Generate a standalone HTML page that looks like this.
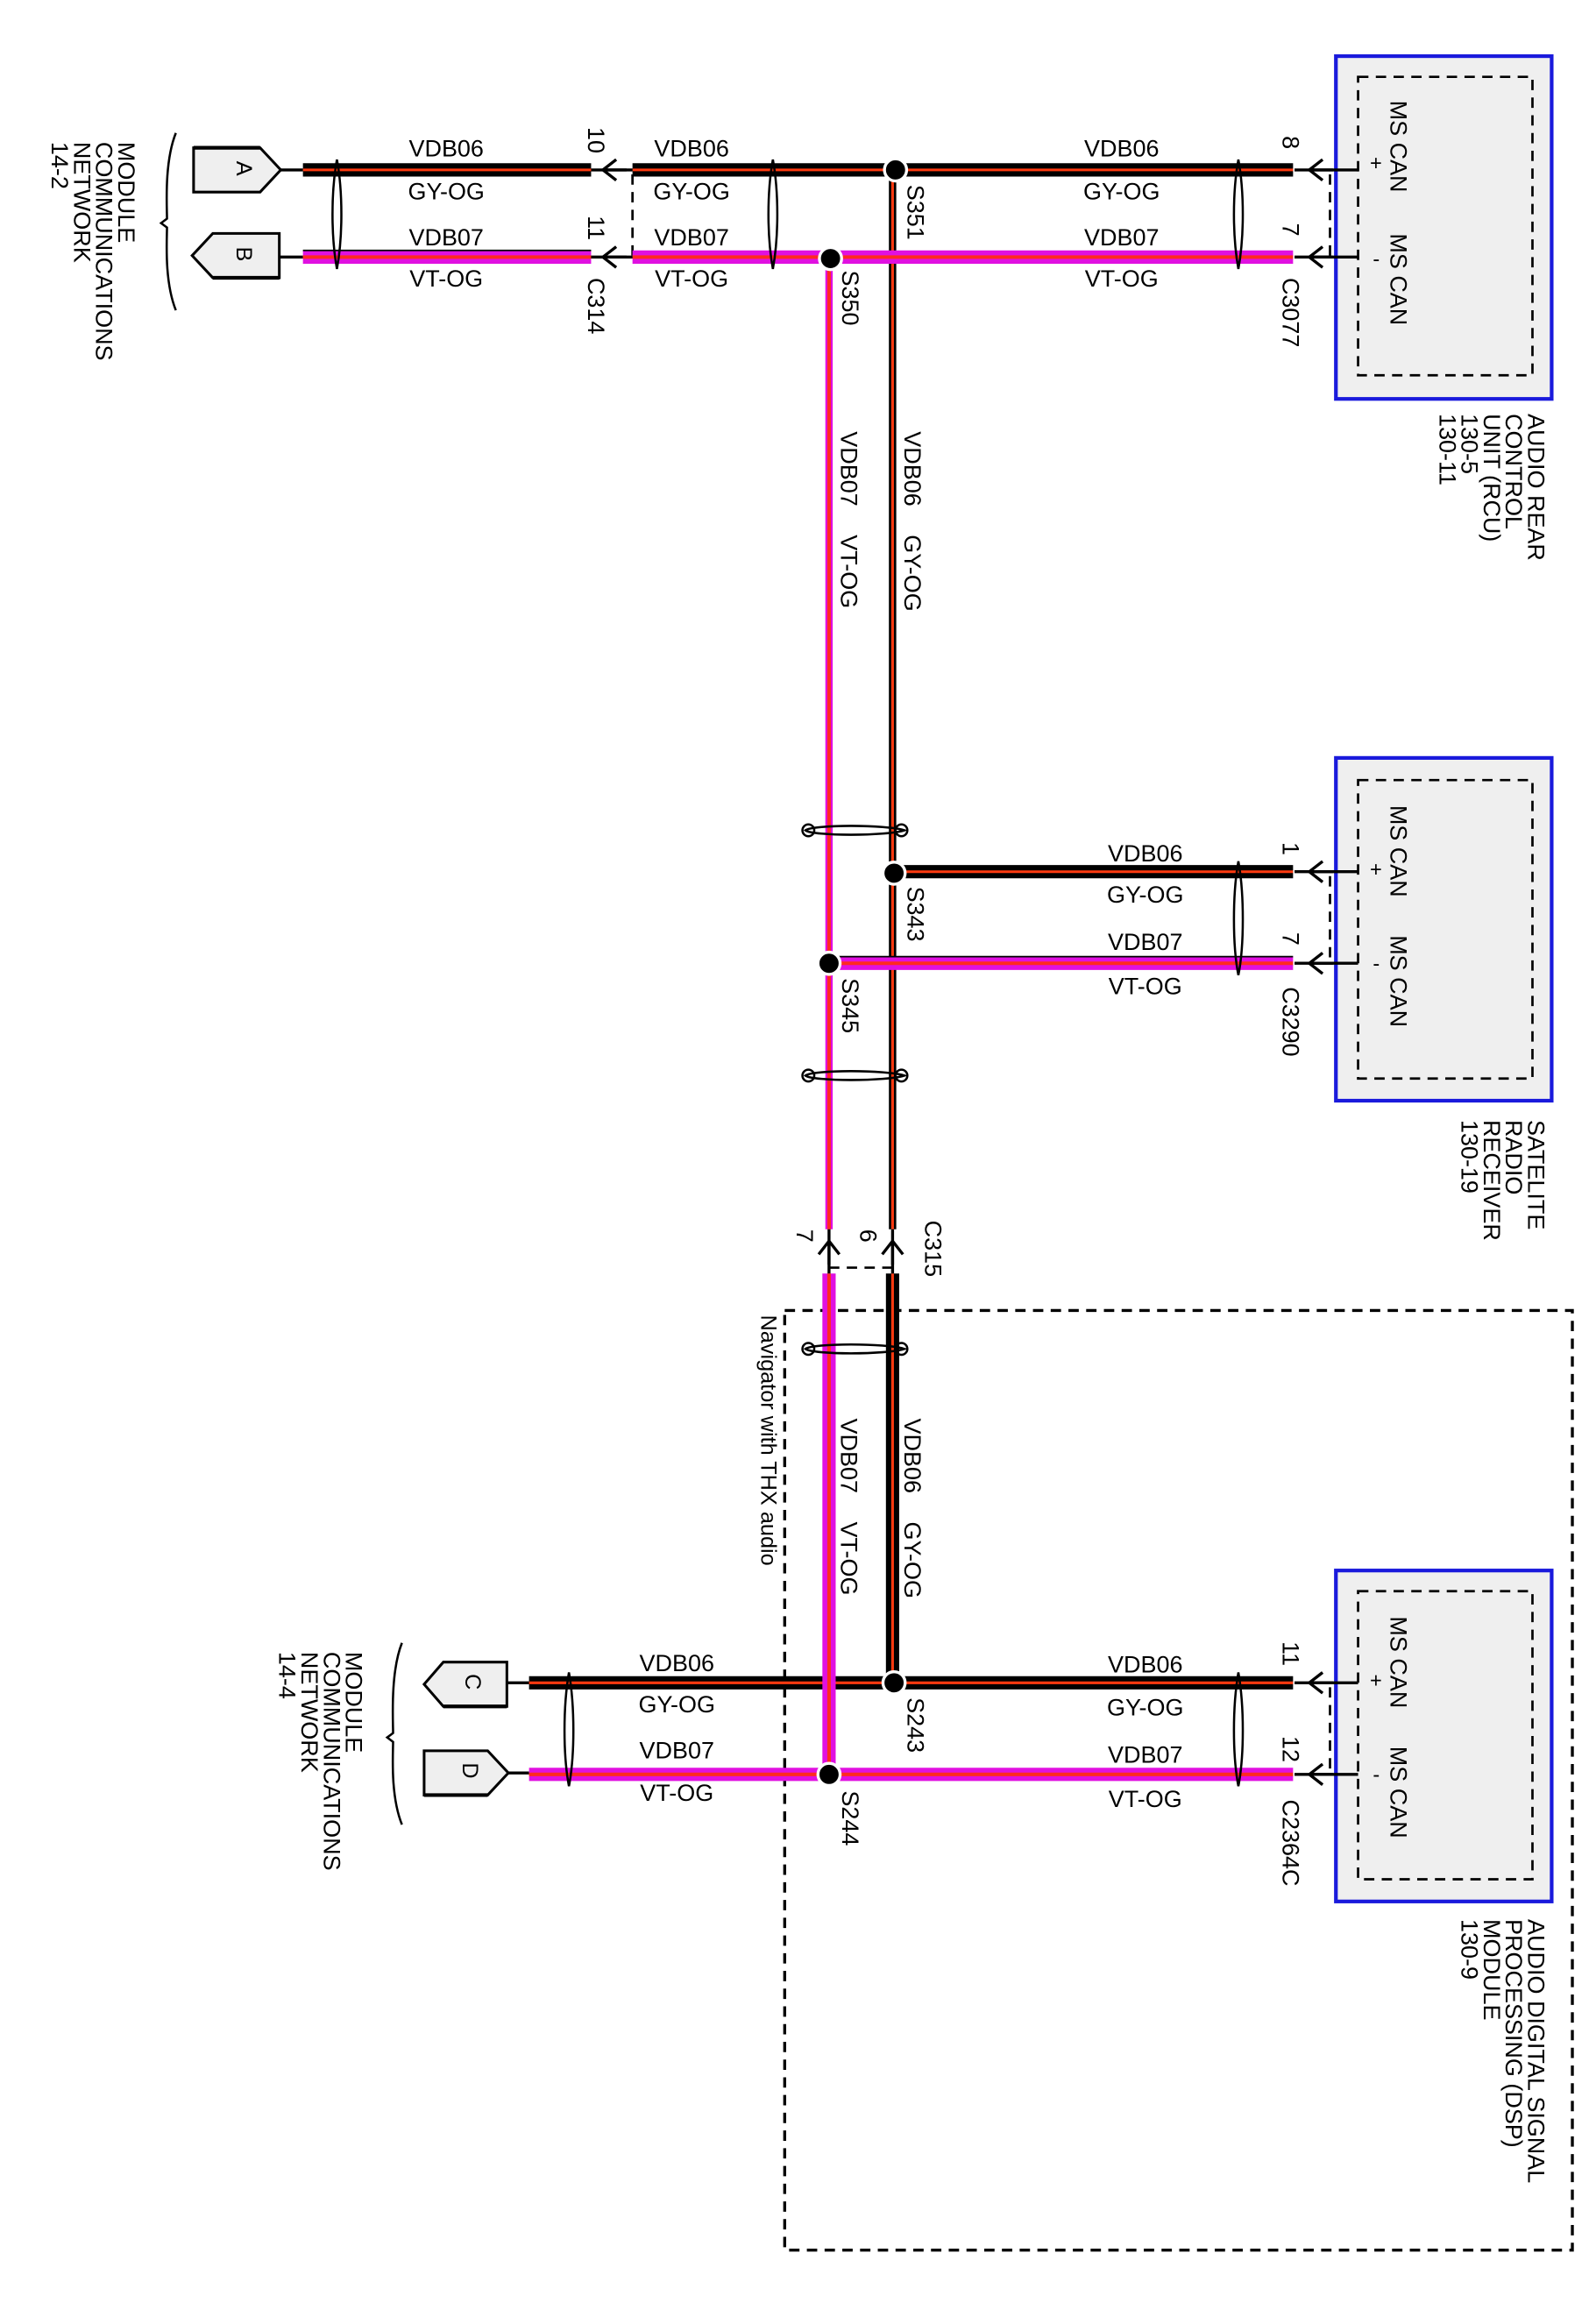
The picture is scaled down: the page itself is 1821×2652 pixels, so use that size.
<!DOCTYPE html>
<html><head><meta charset="utf-8"><style>html,body{margin:0;padding:0;background:#fff}svg{display:block}</style></head>
<body>
<svg width="1821" height="2652" viewBox="0 0 1080 1573" preserveAspectRatio="none" xmlns="http://www.w3.org/2000/svg" font-family="Liberation Sans, Arial, sans-serif">
<defs>
<g id="arrL"><path d="M9,-7 L0,0 L9,7 M0,0 L16,0" fill="none" stroke="#000" stroke-width="2"/></g>
<g id="arrU"><path d="M-7,9 L0,0 L7,9 M0,0 L0,16" fill="none" stroke="#000" stroke-width="2"/></g>
</defs>
<rect width="1080" height="1573" fill="#fff"/>

<g stroke="#1a1adc" stroke-width="2.5" fill="#efefef">
<rect x="904" y="38" width="146" height="232"/>
<rect x="904" y="513" width="146" height="232"/>
<rect x="904" y="1063" width="146" height="224"/>
</g>
<g stroke="#000" stroke-width="1.6" fill="none" stroke-dasharray="7,5">
<rect x="919" y="52" width="118" height="202"/>
<rect x="919" y="528" width="118" height="202"/>
<rect x="919" y="1077" width="118" height="195"/>
<rect x="531" y="887" width="533" height="636" stroke-width="2"/>
<path d="M900,118 V174 M900,593 V652 M900,1142 V1201 M428,118 V174 M561,858 H604"/>
</g>

<g font-size="16" fill="#000">
<g transform="translate(941,68) rotate(90)"><text>MS CAN</text></g>
<g transform="translate(941,158) rotate(90)"><text>MS CAN</text></g>
<text x="927" y="115" font-size="14">+</text><text x="929" y="180" font-size="14">-</text>
<g transform="translate(941,545) rotate(90)"><text>MS CAN</text></g>
<g transform="translate(941,633) rotate(90)"><text>MS CAN</text></g>
<text x="927" y="593" font-size="14">+</text><text x="929" y="657" font-size="14">-</text>
<g transform="translate(941,1094) rotate(90)"><text>MS CAN</text></g>
<g transform="translate(941,1182) rotate(90)"><text>MS CAN</text></g>
<text x="927" y="1142" font-size="14">+</text><text x="929" y="1206" font-size="14">-</text>

<g transform="translate(1034,280) rotate(90)"><text>AUDIO REAR</text><text y="15">CONTROL</text><text y="30">UNIT (RCU)</text><text y="45">130-5</text><text y="60">130-11</text></g>
<g transform="translate(1034,758) rotate(90)"><text>SATELITE</text><text y="15">RADIO</text><text y="30">RECEIVER</text><text y="45">130-19</text></g>
<g transform="translate(1034,1299) rotate(90)"><text>AUDIO DIGITAL SIGNAL</text><text y="15">PROCESSING (DSP)</text><text y="30">MODULE</text><text y="45">130-9</text></g>
<g transform="translate(80,96) rotate(90)"><text>MODULE</text><text y="15">COMMUNICATIONS</text><text y="30">NETWORK</text><text y="45">14-2</text></g>
<g transform="translate(234,1118) rotate(90)"><text>MODULE</text><text y="15">COMMUNICATIONS</text><text y="30">NETWORK</text><text y="45">14-4</text></g>
<g transform="translate(515,890) rotate(90)"><text font-size="15">Navigator with THX audio</text></g>
</g>

<path d="M119,90 C111,110 113,140 113,148 L109,151 L113,154 C113,162 111,190 119,210" fill="none" stroke="#000" stroke-width="1.5"/>
<path d="M272,1112 C264,1132 266,1165 266,1173 L262,1176 L266,1179 C266,1187 264,1215 272,1235" fill="none" stroke="#000" stroke-width="1.5"/>

<g stroke="#000" stroke-width="1.8" fill="#efefef">
<path d="M131,100 H176 L190,115 L176,130 H131 Z"/>
<path d="M189,158 H144 L130,173 L144,188 H189 Z"/>
<path d="M343,1125 H300 L287,1140 L300,1155 H343 Z"/>
<path d="M287,1185 H330 L344,1200 L330,1215 H287 Z"/>
</g>
<g stroke="#000" stroke-width="2.5"><path d="M131,100 H176 M144,188 H189 M300,1155 H343 M287,1215 H330"/></g>
<g font-size="15" fill="#000">
<g transform="translate(160,109) rotate(90)"><text>A</text></g>
<g transform="translate(160,167) rotate(90)"><text>B</text></g>
<g transform="translate(315,1133) rotate(90)"><text>C</text></g>
<g transform="translate(313,1193) rotate(90)"><text>D</text></g>
</g>
<path d="M190,115 H205 M189,174 H205 M343,1139 H358 M344,1200 H358" stroke="#000" stroke-width="2"/>

<g stroke-linecap="butt">
<g stroke="#000" stroke-width="9">
<path d="M205,115 H400 M428,115 H875 M604,590 H875 M604,1139 H875 M358,1139 H604 M604,862 V1139"/>
</g>
<g stroke="#000" stroke-width="5"><path d="M604,115 V832"/></g>
<g stroke="#ff3a10" stroke-width="1.8">
<path d="M205,115 H400 M428,115 H875 M604,590 H875 M604,1139 H875 M358,1139 H604 M604,115 V832 M604,862 V1139"/>
</g>
<g stroke="#e010e0" stroke-width="9">
<path d="M205,174 H400 M428,174 H875 M561,652 H875 M561,1201 H875 M358,1201 H561 M561,862 V1201"/>
</g>
<g stroke="#e010e0" stroke-width="5"><path d="M561,174 V832"/></g>
<g stroke="#ff2a20" stroke-width="2.4">
<path d="M205,174 H400 M428,174 H875 M561,652 H875 M561,1201 H875 M358,1201 H561 M561,174 V832 M561,862 V1201"/>
</g>
<path d="M205,169.5 H400 M561,647.5 H875" stroke="#000" stroke-width="1"/>
</g>

<g fill="#000" stroke="#fff" stroke-width="2">
<circle cx="606" cy="115" r="7.5"/><circle cx="562" cy="175" r="7.5"/>
<circle cx="605" cy="591" r="7.5"/><circle cx="561" cy="652" r="7.5"/>
<circle cx="605" cy="1139" r="7.5"/><circle cx="561" cy="1201" r="7.5"/>
</g>

<path d="M876,115 H919 M876,174 H919 M876,590 H919 M876,652 H919 M876,1139 H919 M876,1201 H919 M400,115 H428 M400,174 H428 M604,832 V862 M561,832 V862" stroke="#000" stroke-width="2"/>
<use href="#arrL" x="886" y="115"/><use href="#arrL" x="886" y="174"/>
<use href="#arrL" x="886" y="590"/><use href="#arrL" x="886" y="652"/>
<use href="#arrL" x="886" y="1139"/><use href="#arrL" x="886" y="1201"/>
<use href="#arrL" x="408" y="115"/><use href="#arrL" x="408" y="174"/>
<use href="#arrU" x="604" y="840"/><use href="#arrU" x="561" y="840"/>

<g fill="none" stroke="#000" stroke-width="1.5">
<path d="M228,108 C224,130 224,160 228,182 C232,160 232,130 228,108 Z"/>
<path d="M523,108 C519,130 519,160 523,182 C527,160 527,130 523,108 Z"/>
<path d="M838,108 C834,130 834,160 838,182 C842,160 842,130 838,108 Z"/>
<path d="M838,583 C834,605 834,640 838,660 C842,640 842,605 838,583 Z"/>
<path d="M838,1132 C834,1155 834,1188 838,1209 C842,1188 842,1155 838,1132 Z"/>
<path d="M385,1132 C381,1155 381,1188 385,1209 C389,1188 389,1155 385,1132 Z"/>
<path d="M545,562 C550,558 600,558 612,562 C600,566 550,566 545,562 Z"/>
<path d="M545,728 C550,724 600,724 612,728 C600,732 550,732 545,728 Z"/>
<path d="M545,913 C550,909 600,909 612,913 C600,917 550,917 545,913 Z"/>
<circle cx="547" cy="562" r="4"/><circle cx="610" cy="562" r="4"/>
<circle cx="547" cy="728" r="4"/><circle cx="610" cy="728" r="4"/>
<circle cx="547" cy="913" r="4"/><circle cx="610" cy="913" r="4"/>
</g>

<g font-size="16" fill="#000" text-anchor="middle">
<text x="302" y="106">VDB06</text><text x="302" y="135">GY-OG</text>
<text x="302" y="166">VDB07</text><text x="302" y="194">VT-OG</text>
<text x="468" y="106">VDB06</text><text x="468" y="135">GY-OG</text>
<text x="468" y="166">VDB07</text><text x="468" y="194">VT-OG</text>
<text x="759" y="106">VDB06</text><text x="759" y="135">GY-OG</text>
<text x="759" y="166">VDB07</text><text x="759" y="194">VT-OG</text>
<text x="775" y="583">VDB06</text><text x="775" y="611">GY-OG</text>
<text x="775" y="643">VDB07</text><text x="775" y="673">VT-OG</text>
<text x="775" y="1132">VDB06</text><text x="775" y="1161">GY-OG</text>
<text x="775" y="1193">VDB07</text><text x="775" y="1223">VT-OG</text>
<text x="458" y="1131">VDB06</text><text x="458" y="1159">GY-OG</text>
<text x="458" y="1190">VDB07</text><text x="458" y="1219">VT-OG</text>
</g>
<g font-size="16" fill="#000">
<g transform="translate(612,292) rotate(90)"><text>VDB06</text><text x="70">GY-OG</text></g>
<g transform="translate(569,292) rotate(90)"><text>VDB07</text><text x="70">VT-OG</text></g>
<g transform="translate(612,960) rotate(90)"><text>VDB06</text><text x="70">GY-OG</text></g>
<g transform="translate(569,960) rotate(90)"><text>VDB07</text><text x="70">VT-OG</text></g>
<g transform="translate(614,125) rotate(90)"><text>S351</text></g>
<g transform="translate(570,183) rotate(90)"><text>S350</text></g>
<g transform="translate(614,600) rotate(90)"><text>S343</text></g>
<g transform="translate(570,662) rotate(90)"><text>S345</text></g>
<g transform="translate(614,1149) rotate(90)"><text>S243</text></g>
<g transform="translate(570,1212) rotate(90)"><text>S244</text></g>
<g transform="translate(398,188) rotate(90)"><text>C314</text></g>
<g transform="translate(868,188) rotate(90)"><text>C3077</text></g>
<g transform="translate(868,668) rotate(90)"><text>C3290</text></g>
<g transform="translate(868,1218) rotate(90)"><text>C2364C</text></g>
<g transform="translate(626,826) rotate(90)"><text>C315</text></g>
<g transform="translate(398,86) rotate(90)"><text>10</text></g>
<g transform="translate(398,146) rotate(90)"><text>11</text></g>
<g transform="translate(868,92) rotate(90)"><text>8</text></g>
<g transform="translate(868,151) rotate(90)"><text>7</text></g>
<g transform="translate(868,570) rotate(90)"><text>1</text></g>
<g transform="translate(868,631) rotate(90)"><text>7</text></g>
<g transform="translate(868,1111) rotate(90)"><text>11</text></g>
<g transform="translate(868,1175) rotate(90)"><text>12</text></g>
<g transform="translate(582,832) rotate(90)"><text>6</text></g>
<g transform="translate(539,832) rotate(90)"><text>7</text></g>
</g>
</svg>
</body></html>
